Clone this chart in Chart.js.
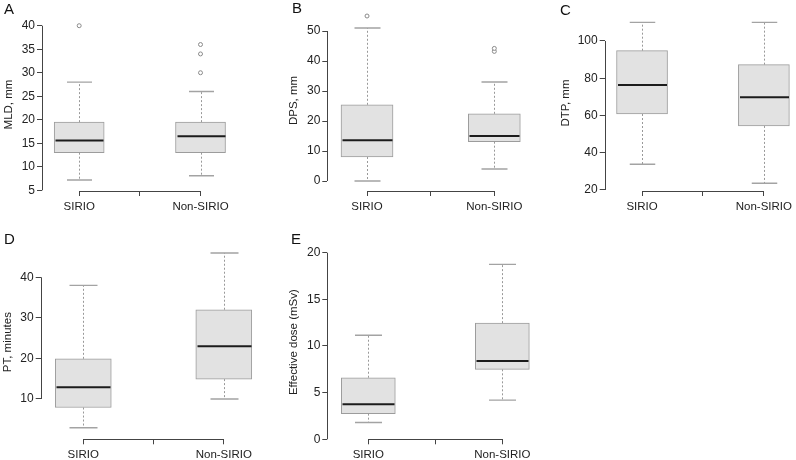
<!DOCTYPE html>
<html><head><meta charset="utf-8">
<script src="https://cdn.jsdelivr.net/npm/chart.js@4"></script>
<style>
html,body{margin:0;padding:0;background:#fff;}
#wrap{position:relative;width:796px;height:460px;overflow:hidden;background:#fff;}
#wrap canvas{position:absolute;}
.lbl{position:absolute;font-family:"Liberation Sans",Arial,sans-serif;font-size:15px;line-height:1;color:#111;}
</style></head><body>
<div id="wrap">
  <canvas id="cA" width="272" height="228" style="left:0;top:0"></canvas>
  <canvas id="cB" width="260" height="228" style="left:270px;top:0"></canvas>
  <canvas id="cC" width="266" height="228" style="left:530px;top:0"></canvas>
  <canvas id="cD" width="272" height="232" style="left:0;top:228px"></canvas>
  <canvas id="cE" width="270" height="232" style="left:270px;top:228px"></canvas>
  <div class="lbl" style="left:4px;top:0.5px">A</div>
  <div class="lbl" style="left:292px;top:0px">B</div>
  <div class="lbl" style="left:560px;top:1.5px">C</div>
  <div class="lbl" style="left:4px;top:230.5px">D</div>
  <div class="lbl" style="left:291px;top:231px">E</div>
</div>
<script>
// ---- data: five-number summaries [lower whisker, Q1, median, Q3, upper whisker]
const groups = ['SIRIO', 'Non-SIRIO'];

const mldSIRIO = [7.2, 13, 15.6, 19.5, 28];
const mldNonSIRIO = [8.1, 13, 16.5, 19.5, 26];
const mldOutSIRIO = [40];
const mldOutNonSIRIO = [30, 34, 36];
const mldTicks = [5, 10, 15, 20, 25, 30, 35, 40];

const dpsSIRIO = [0, 8, 13.6, 25.4, 51];
const dpsNonSIRIO = [4, 13.1, 15, 22.4, 33];
const dpsOutSIRIO = [55];
const dpsOutNonSIRIO = [43.2, 44.2];
const dpsTicks = [0, 10, 20, 30, 40, 50];

const dtpSIRIO = [33.8, 60.8, 76.4, 94.8, 110];
const dtpNonSIRIO = [23.6, 54.4, 69.8, 87.3, 110];
const dtpOutSIRIO = [];
const dtpOutNonSIRIO = [];
const dtpTicks = [20, 40, 60, 80, 100];

const ptSIRIO = [2.9, 7.9, 12.9, 19.9, 38];
const ptNonSIRIO = [10, 14.9, 23, 32, 46];
const ptOutSIRIO = [];
const ptOutNonSIRIO = [];
const ptTicks = [10, 20, 30, 40];

const doseSIRIO = [1.8, 2.75, 3.75, 6.6, 11.15];
const doseNonSIRIO = [4.2, 7.5, 8.4, 12.45, 18.75];
const doseOutSIRIO = [];
const doseOutNonSIRIO = [];
const doseTicks = [0, 5, 10, 15, 20];

// ---- layout of each panel (positions / sizes only)
const panels = [
  {id:'cA', title:'MLD, mm', stats:[mldSIRIO, mldNonSIRIO], out:[mldOutSIRIO, mldOutNonSIRIO], ticks:mldTicks,
   yW:42, xH:37, padTop:18, xMin:0.6935, xMax:2.548, yMin:4.85, yMax:41.64, bar:50, titlePad:1.5},
  {id:'cB', title:'DPS, mm', stats:[dpsSIRIO, dpsNonSIRIO], out:[dpsOutSIRIO, dpsOutNonSIRIO], ticks:dpsTicks,
   yW:57.3, xH:37, padTop:10, xMin:0.688, xMax:2.241, yMin:-3.333, yMax:57, bar:52, titlePad:16.6},
  {id:'cC', title:'DTP, mm', stats:[dtpSIRIO, dtpNonSIRIO], out:[dtpOutSIRIO, dtpOutNonSIRIO], ticks:dtpTicks,
   yW:74.7, xH:37, padTop:15, xMin:0.6936, xMax:2.224, yMin:19.46, yMax:113.96, bar:51, titlePad:28.8},
  {id:'cD', title:'PT, minutes', stats:[ptSIRIO, ptNonSIRIO], out:[ptOutSIRIO, ptOutNonSIRIO], ticks:ptTicks,
   yW:40.7, xH:20.7, padTop:17, xMin:0.697, xMax:2.343, yMin:0.066, yMax:47.96, bar:56, titlePad:0.5},
  {id:'cE', title:'Effective dose (mSv)', stats:[doseSIRIO, doseNonSIRIO], out:[doseOutSIRIO, doseOutNonSIRIO], ticks:doseTicks,
   yW:57.3, xH:20.7, padTop:17, xMin:0.694, xMax:2.281, yMin:0, yMax:20.825, bar:54, titlePad:17}
];

Chart.defaults.font.family = '"Liberation Sans", Arial, Helvetica, sans-serif';
Chart.defaults.font.size = 11.5;
Chart.defaults.color = '#222';

const boxPlugin = {
  id: 'boxplot',
  afterDatasetsDraw(chart, args, opts) {
    const {ctx, chartArea} = chart;
    const xs = chart.scales.x, ys = chart.scales.y;
    const half = opts.bar / 2;
    const crisp = v => Math.round(v) + 0.5;
    ctx.save();
    opts.stats.forEach((s, i) => {
      const xp = crisp(xs.getPixelForValue(i + 1));
      const [lo, q1, med, q3, hi] = s.map(v => ys.getPixelForValue(v));
      ctx.strokeStyle = '#999';
      ctx.lineWidth = 1;
      ctx.setLineDash([2, 2]);
      ctx.beginPath();
      ctx.moveTo(xp, q3); ctx.lineTo(xp, hi);
      ctx.moveTo(xp, q1); ctx.lineTo(xp, lo);
      ctx.stroke();
      ctx.setLineDash([]);
      ctx.strokeStyle = '#a3a3a3';
      ctx.lineWidth = 1.4;
      ctx.beginPath();
      ctx.moveTo(xp - half / 2, hi); ctx.lineTo(xp + half / 2, hi);
      ctx.moveTo(xp - half / 2, lo); ctx.lineTo(xp + half / 2, lo);
      ctx.stroke();
      ctx.strokeStyle = '#1c1c1c';
      ctx.lineWidth = 2;
      ctx.beginPath();
      ctx.moveTo(xp - half + 1, med); ctx.lineTo(xp + half - 1, med);
      ctx.stroke();
    });
    // R-style axis lines: y from first to last tick, x bracket between groups
    ctx.strokeStyle = '#444';
    ctx.lineWidth = 1;
    const t = opts.ticks;
    const ax = crisp(chartArea.left);
    ctx.beginPath();
    ctx.moveTo(ax, ys.getPixelForValue(t[0]));
    ctx.lineTo(ax, ys.getPixelForValue(t[t.length - 1]));
    const by = crisp(chartArea.bottom);
    ctx.moveTo(xs.getPixelForValue(1), by);
    ctx.lineTo(xs.getPixelForValue(groups.length), by);
    ctx.stroke();
    ctx.restore();
  }
};

panels.forEach(p => {
  const boxData = p.stats.map((s, i) => ({x: i + 1, y: [s[1], s[3]]}));
  const outData = p.out.flatMap((arr, i) => arr.map(v => ({x: i + 1, y: v})));
  new Chart(document.getElementById(p.id), {
    type: 'bar',
    data: {
      datasets: [
        {type: 'bar', data: boxData, backgroundColor: '#e2e2e2', borderColor: '#9c9c9c',
         borderWidth: 1, borderSkipped: false, barThickness: p.bar},
        {type: 'scatter', data: outData, pointRadius: 2, pointBorderWidth: 1,
         pointBorderColor: '#8a8a8a', pointBackgroundColor: '#ffffff', showLine: false}
      ]
    },
    options: {
      responsive: false,
      animation: false,
      events: [],
      layout: {padding: {top: p.padTop, left: 0, right: 0, bottom: 0}},
      plugins: {
        legend: {display: false},
        tooltip: {enabled: false},
        boxplot: {stats: p.stats, ticks: p.ticks, bar: p.bar}
      },
      scales: {
        x: {
          type: 'linear', min: p.xMin, max: p.xMax, offset: false,
          afterBuildTicks: s => { s.ticks = [1, 1.5, 2].map(v => ({value: v})); },
          afterFit: s => { s.height = p.xH; },
          ticks: {
            autoSkip: false, maxRotation: 0, padding: 4, color: '#222',
            callback: v => (v === 1 ? groups[0] : v === 2 ? groups[1] : '')
          },
          grid: {offset: false, drawOnChartArea: false, drawTicks: true, tickLength: 5, color: '#444', lineWidth: 1},
          border: {display: false}
        },
        y: {
          type: 'linear', min: p.yMin, max: p.yMax, beginAtZero: false,
          afterBuildTicks: s => { s.ticks = p.ticks.map(v => ({value: v})); },
          afterFit: s => { s.width = p.yW; },
          ticks: {padding: 2, color: '#222', font: {size: 12}, callback: v => String(v)},
          grid: {drawOnChartArea: false, drawTicks: true, tickLength: 5, color: '#444', lineWidth: 1},
          border: {display: false},
          title: {display: true, text: p.title, color: '#222', padding: {top: p.titlePad, bottom: 0}}
        }
      }
    },
    plugins: [boxPlugin]
  });
});
</script>
</body></html>
